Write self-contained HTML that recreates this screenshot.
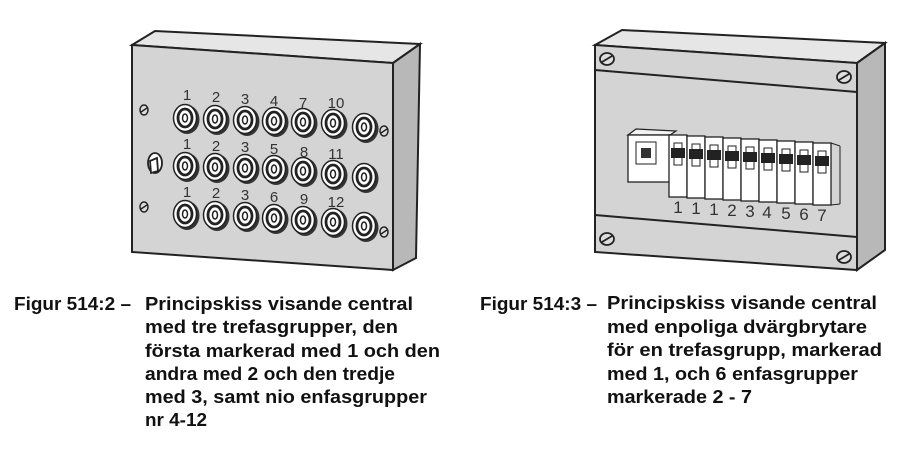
<!DOCTYPE html>
<html><head><meta charset="utf-8"><style>
body{margin:0;background:#fff}
svg{display:block}
text{font-family:"Liberation Sans",Arial,sans-serif}
.cap{font-size:18.5px;font-weight:bold;fill:#111}
.n{font-size:15px;fill:#333}
</style></head><body>
<svg width="907" height="450" viewBox="0 0 907 450" xmlns="http://www.w3.org/2000/svg">
<defs>
<g id="knob">
<ellipse cx="2" cy="1.5" rx="12.5" ry="14.5" fill="#333"/>
<ellipse cx="0" cy="0" rx="11.5" ry="13.5" fill="#fff" stroke="#222" stroke-width="1.5"/>
<ellipse cx="0" cy="0" rx="7" ry="9" fill="#fff" stroke="#222" stroke-width="2.8"/>
<ellipse cx="0" cy="0" rx="2.5" ry="4" fill="#fff" stroke="#222" stroke-width="1.5"/>
</g>
<g id="screw"><ellipse cx="0" cy="0" rx="4" ry="5" fill="#ddd" stroke="#222" stroke-width="1.5"/><line x1="-3" y1="2" x2="3" y2="-2" stroke="#222" stroke-width="1.5"/></g>
<g id="screw2"><ellipse cx="0" cy="0" rx="7" ry="6" fill="#ddd" stroke="#222" stroke-width="1.8"/><line x1="-5" y1="3" x2="5" y2="-3" stroke="#222" stroke-width="1.8"/></g>
<g id="brk">
<rect x="0" y="0" width="18" height="62" fill="#fff" stroke="#222" stroke-width="1.3"/>
<rect x="5" y="8" width="8" height="22" fill="#fff" stroke="#222" stroke-width="1"/>
<rect x="2" y="13" width="14" height="10" fill="#222"/>
</g>
</defs>
<polygon points="132,45 155,31 420,44 393,63" fill="#e6e6e6" stroke="#222" stroke-width="2"/>
<polygon points="393,63 420,44 416,258 393,270" fill="#b8b8b8" stroke="#222" stroke-width="2"/>
<polygon points="132,45 393,63 393,270 132,252" fill="#d4d4d4" stroke="#222" stroke-width="2"/>
<use href="#screw" x="144" y="110"/><use href="#screw" x="384" y="131"/>
<use href="#screw" x="144" y="207"/><use href="#screw" x="384" y="232"/>
<g transform="translate(155,163)"><ellipse cx="0" cy="0" rx="7" ry="10" fill="#fff" stroke="#222" stroke-width="1.8"/><polygon points="-5,-2 2,-5 3,8 -4,10" fill="#fff" stroke="#222" stroke-width="1.8"/></g>
<g>
<use href="#knob" x="185" y="118"/><use href="#knob" x="215" y="119"/><use href="#knob" x="245" y="120"/><use href="#knob" x="274" y="121"/><use href="#knob" x="303" y="122"/><use href="#knob" x="333" y="123"/><use href="#knob" x="364" y="127"/>
<use href="#knob" x="185" y="166"/><use href="#knob" x="215" y="167"/><use href="#knob" x="245" y="168"/><use href="#knob" x="274" y="169"/><use href="#knob" x="303" y="171"/><use href="#knob" x="333" y="174"/><use href="#knob" x="364" y="177"/>
<use href="#knob" x="185" y="214"/><use href="#knob" x="215" y="215"/><use href="#knob" x="245" y="216"/><use href="#knob" x="274" y="218"/><use href="#knob" x="303" y="220"/><use href="#knob" x="333" y="222"/><use href="#knob" x="364" y="226"/>
</g>
<g class="n" text-anchor="middle">
<text x="187" y="100">1</text><text x="216" y="102">2</text><text x="245" y="104">3</text><text x="274" y="106">4</text><text x="303" y="108">7</text><text x="336" y="108">10</text>
<text x="187" y="149">1</text><text x="216" y="151">2</text><text x="245" y="152">3</text><text x="274" y="154">5</text><text x="304" y="157">8</text><text x="336" y="159">11</text>
<text x="187" y="197">1</text><text x="216" y="198">2</text><text x="245" y="200">3</text><text x="274" y="202">6</text><text x="304" y="204">9</text><text x="336" y="207">12</text>
</g>
<polygon points="595,45 622,30 885,43 857,63" fill="#e6e6e6" stroke="#222" stroke-width="2"/>
<polygon points="857,63 885,43 885,250 857,270" fill="#b8b8b8" stroke="#222" stroke-width="2"/>
<polygon points="595,45 857,63 857,270 595,252" fill="#d4d4d4" stroke="#222" stroke-width="2"/>
<line x1="595" y1="70" x2="857" y2="92" stroke="#222" stroke-width="2"/>
<line x1="595" y1="215" x2="857" y2="237" stroke="#222" stroke-width="2"/>
<use href="#screw2" x="607" y="59"/><use href="#screw2" x="844" y="77"/>
<use href="#screw2" x="607" y="239"/><use href="#screw2" x="844" y="257"/>
<polygon points="628,135 636,129 676,131 670,135" fill="#f2f2f2" stroke="#222" stroke-width="1.2"/>
<rect x="628" y="135" width="42" height="47" fill="#fff" stroke="#222" stroke-width="1.3"/>
<rect x="636" y="142" width="20" height="22" fill="#fff" stroke="#222" stroke-width="1"/>
<rect x="641" y="148" width="10" height="10" fill="#333"/>
<g>
<use href="#brk" x="669" y="135"/><use href="#brk" x="687" y="136"/><use href="#brk" x="705" y="137"/><use href="#brk" x="723" y="138"/><use href="#brk" x="741" y="139"/><use href="#brk" x="759" y="140"/><use href="#brk" x="777" y="141"/><use href="#brk" x="795" y="142"/><use href="#brk" x="813" y="143"/>
<line x1="831" y1="143" x2="840" y2="146" stroke="#222"/><line x1="840" y1="146" x2="840" y2="204" stroke="#222"/><line x1="831" y1="205" x2="840" y2="204" stroke="#222"/>
</g>
<g class="n" text-anchor="middle" style="font-size:17px">
<text x="678" y="213">1</text><text x="696" y="214">1</text><text x="714" y="215">1</text><text x="732" y="216">2</text><text x="750" y="217">3</text><text x="767" y="218">4</text><text x="786" y="219">5</text><text x="804" y="220">6</text><text x="822" y="221">7</text>
</g>
<g class="cap">
<text x="14" y="310" textLength="117" lengthAdjust="spacingAndGlyphs">Figur 514:2 –</text>
<text x="145" y="310" textLength="268" lengthAdjust="spacingAndGlyphs">Principskiss visande central</text>
<text x="145" y="333" textLength="253" lengthAdjust="spacingAndGlyphs">med tre trefasgrupper, den</text>
<text x="145" y="357" textLength="295" lengthAdjust="spacingAndGlyphs">första markerad med 1 och den</text>
<text x="145" y="380" textLength="250" lengthAdjust="spacingAndGlyphs">andra med 2 och den tredje</text>
<text x="145" y="403" textLength="282" lengthAdjust="spacingAndGlyphs">med 3, samt nio enfasgrupper</text>
<text x="145" y="426" textLength="62" lengthAdjust="spacingAndGlyphs">nr 4-12</text>
<text x="480" y="310" textLength="117" lengthAdjust="spacingAndGlyphs">Figur 514:3 –</text>
<text x="607" y="309" textLength="270" lengthAdjust="spacingAndGlyphs">Principskiss visande central</text>
<text x="607" y="333" textLength="260" lengthAdjust="spacingAndGlyphs">med enpoliga dvärgbrytare</text>
<text x="607" y="356" textLength="275" lengthAdjust="spacingAndGlyphs">för en trefasgrupp, markerad</text>
<text x="607" y="380" textLength="251" lengthAdjust="spacingAndGlyphs">med 1, och 6 enfasgrupper</text>
<text x="607" y="403" textLength="145" lengthAdjust="spacingAndGlyphs">markerade 2 - 7</text>
</g>
</svg>
</body></html>
